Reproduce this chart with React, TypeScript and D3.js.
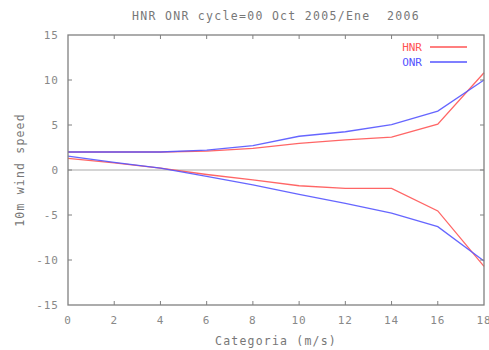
import React from "react";
import * as d3 from "d3";

const categories = [0, 2, 4, 6, 8, 10, 12, 14, 16, 18];
const hnrUpper = [2.0, 2.0, 2.0, 2.1, 2.4, 2.95, 3.35, 3.65, 5.1, 10.8];
const onrUpper = [2.0, 2.0, 2.0, 2.2, 2.7, 3.75, 4.25, 5.05, 6.55, 10.0];
const hnrLower = [1.3, 0.8, 0.2, -0.5, -1.1, -1.75, -2.05, -2.05, -4.55, -10.7];
const onrLower = [1.55, 0.85, 0.2, -0.7, -1.65, -2.7, -3.7, -4.8, -6.3, -10.1];
const xTicks = [0, 2, 4, 6, 8, 10, 12, 14, 16, 18];
const yTicks = [-15, -10, -5, 0, 5, 10, 15];

const W = 489;
const H = 350;
const M = { left: 68, right: 484, top: 35, bottom: 305 };
const RED = "#ff5555";
const BLUE = "#5555ff";
const GRAY = "#808080";
const FONT = "'DejaVu Sans Mono', monospace";

export default function App() {
  const x = d3.scaleLinear().domain([0, 18]).range([M.left, M.right]);
  const y = d3.scaleLinear().domain([-15, 15]).range([M.bottom, M.top]);
  const line = d3
    .line<number>()
    .x((_, i) => x(categories[i]))
    .y((d) => y(d));

  const series = [
    { values: hnrUpper, color: RED },
    { values: onrUpper, color: BLUE },
    { values: hnrLower, color: RED },
    { values: onrLower, color: BLUE },
  ];

  return (
    <svg
      width={W}
      height={H}
      style={{ position: "absolute", left: 0, top: 0, background: "#fff" }}
    >
      <text
        x={276}
        y={20}
        textAnchor="middle"
        fontFamily={FONT}
        fontSize={11.5}
        letterSpacing={1.3}
        fill="#777"
        style={{ whiteSpace: "pre" }}
      >
        {"HNR ONR cycle=00 Oct 2005/Ene  2006"}
      </text>

      {/* zero line */}
      <line x1={M.left} x2={M.right} y1={y(0)} y2={y(0)} stroke="#aaa" strokeWidth={1} />

      {/* data lines */}
      {series.map((s, i) => (
        <path
          key={i}
          d={line(s.values) ?? ""}
          fill="none"
          stroke={s.color}
          strokeWidth={1.3}
          strokeOpacity={0.9}
        />
      ))}

      {/* frame */}
      <rect
        x={M.left}
        y={M.top}
        width={M.right - M.left}
        height={M.bottom - M.top}
        fill="none"
        stroke={GRAY}
        strokeWidth={1.3}
      />

      {/* x ticks (mirrored) and labels */}
      {xTicks.map((t) => (
        <g key={"x" + t}>
          {t > 0 && t < 18 && (
            <>
              <line x1={x(t)} x2={x(t)} y1={M.bottom} y2={M.bottom - 4} stroke={GRAY} />
              <line x1={x(t)} x2={x(t)} y1={M.top} y2={M.top + 4} stroke={GRAY} />
            </>
          )}
          <text
            x={x(t)}
            y={324}
            textAnchor="middle"
            fontFamily={FONT}
            fontSize={11}
            letterSpacing={1}
            fill="#888"
          >
            {t}
          </text>
        </g>
      ))}

      {/* y ticks (mirrored) and labels */}
      {yTicks.map((t) => (
        <g key={"y" + t}>
          {t > -15 && t < 15 && (
            <>
              <line x1={M.left} x2={M.left + 4} y1={y(t)} y2={y(t)} stroke={GRAY} />
              <line x1={M.right} x2={M.right - 4} y1={y(t)} y2={y(t)} stroke={GRAY} />
            </>
          )}
          <text
            x={59}
            y={y(t) + 4}
            textAnchor="end"
            fontFamily={FONT}
            fontSize={11}
            letterSpacing={1}
            fill="#888"
          >
            {t}
          </text>
        </g>
      ))}

      {/* axis titles */}
      <text
        x={276}
        y={345}
        textAnchor="middle"
        fontFamily={FONT}
        fontSize={11.5}
        letterSpacing={1.2}
        fill="#777"
      >
        Categoria (m/s)
      </text>
      <text
        transform={`translate(24,${y(0)}) rotate(-90)`}
        textAnchor="middle"
        fontFamily={FONT}
        fontSize={11.5}
        letterSpacing={1.2}
        fill="#777"
      >
        10m wind speed
      </text>

      {/* legend */}
      <text x={422} y={51} textAnchor="end" fontFamily={FONT} fontSize={11} fill={RED}>
        HNR
      </text>
      <line x1={430} x2={467} y1={47} y2={47} stroke={RED} strokeWidth={1.3} />
      <text x={422} y={66} textAnchor="end" fontFamily={FONT} fontSize={11} fill={BLUE}>
        ONR
      </text>
      <line x1={430} x2={467} y1={62} y2={62} stroke={BLUE} strokeWidth={1.3} />
    </svg>
  );
}
